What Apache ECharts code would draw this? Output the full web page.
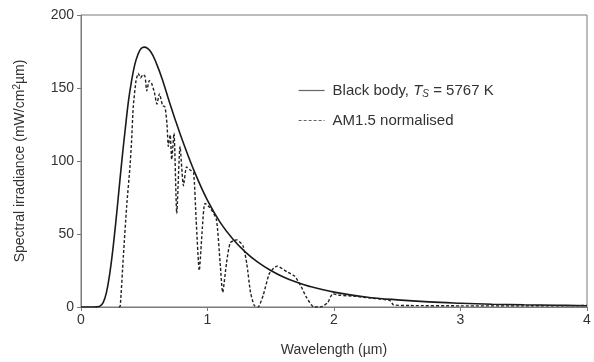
<!DOCTYPE html>
<html>
<head>
<meta charset="utf-8">
<script src="https://cdn.jsdelivr.net/npm/echarts@6/dist/echarts.min.js"></script>
<style>html,body{margin:0;padding:0;background:#fff;}#c{width:594px;height:362px;}</style>
</head>
<body>
<div id="c"></div>
<script>
// Wavelength (µm) / irradiance (mW/cm²µm) pairs
var blackBody = [
  [0,0],[0.05,0],[0.1,0],[0.125,0.1],[0.15,0.6],[0.175,3],[0.2,9.5],[0.225,21.5],[0.25,38],
  [0.275,58],[0.3,80],[0.325,102],[0.35,122],[0.375,141],[0.4,155],[0.425,166],[0.45,173],
  [0.475,177],[0.5,178],[0.55,175],[0.6,166],[0.65,154],[0.7,140],[0.75,127],[0.8,114.5],
  [0.9,92],[1.0,73],[1.1,58],[1.2,46.6],[1.3,37.6],[1.4,30.5],[1.5,25],[1.6,20.6],[1.7,17.1],
  [1.8,14.3],[2.0,10.2],[2.25,6.9],[2.5,4.9],[2.75,3.5],[3.0,2.6],[3.25,1.9],[3.5,1.5],
  [3.75,1.2],[4.0,0.9]
];
var am15 = [
  [0.30,0],[0.31,0.5],[0.335,35],[0.361,69],[0.387,96],[0.40,114],[0.413,137],[0.435,155],
  [0.453,160],[0.47,157],[0.49,159],[0.506,158],[0.52,148],[0.54,155],[0.559,153],[0.58,147],
  [0.60,139],[0.62,146],[0.645,138],[0.664,137],[0.68,125],[0.69,110],[0.705,118],[0.717,101],
  [0.735,119],[0.757,64],[0.783,110],[0.81,83],[0.835,96],[0.86,94],[0.89,92],[0.91,60],
  [0.935,25],[0.96,55],[0.98,71],[1.02,68],[1.07,60],[1.10,30],[1.12,10],[1.15,30],[1.18,44],
  [1.23,46],[1.28,42],[1.31,30],[1.34,10],[1.37,1],[1.40,0],[1.44,8],[1.49,23],[1.55,28],
  [1.63,24],[1.69,21],[1.74,14],[1.78,7],[1.84,0],[1.89,0],[1.95,3],[1.99,9],[2.05,8],
  [2.15,7.5],[2.3,6],[2.44,4.5],[2.47,1.5],[2.6,1],[3.0,0.8],[3.5,0.8],[4.0,1.0]
];
var xTicks = [0,1,2,3,4];
var yTicks = [0,50,100,150,200];
var seriesNames = ['Black body', 'AM1.5 normalised'];

var chart = echarts.init(document.getElementById('c'), null, {renderer:'canvas'});
var font = 'Liberation Sans, Arial, Helvetica, sans-serif';
var axisGray = '#7a7a7a';
var txt = '#333';
chart.setOption({
  animation:false,
  backgroundColor:'#fff',
  grid:{left:81, right:7, top:15, bottom:54, show:true, borderColor:axisGray, borderWidth:1},
  xAxis:{
    type:'value', min:xTicks[0], max:xTicks[xTicks.length-1], interval:1,
    name:'Wavelength (µm)', nameLocation:'middle', nameGap:36,
    nameTextStyle:{fontFamily:font, fontSize:14, color:txt},
    axisLine:{show:true, onZero:false, lineStyle:{color:axisGray}},
    axisTick:{show:true, length:4, inside:false, lineStyle:{color:axisGray}},
    axisLabel:{fontFamily:font, fontSize:14, color:txt, margin:6},
    splitLine:{show:false}
  },
  yAxis:{
    type:'value', min:yTicks[0], max:yTicks[yTicks.length-1], interval:50,
    name:'{a|Spectral irradiance (mW/cm}{s|2}{a|µm)}', nameLocation:'middle', nameGap:53,
    nameTextStyle:{fontFamily:font, fontSize:14, color:txt,
      rich:{a:{fontFamily:font, fontSize:14, color:txt}, s:{fontFamily:font, fontSize:10, color:txt, verticalAlign:'top', padding:[0,0,6,0]}}},
    axisLine:{show:true, lineStyle:{color:axisGray}},
    axisTick:{show:true, length:4, inside:false, lineStyle:{color:axisGray}},
    axisLabel:{fontFamily:font, fontSize:14, color:txt, margin:7},
    splitLine:{show:false}
  },
  legend:{
    orient:'vertical', left:298, top:83, padding:0, itemWidth:26, itemHeight:14, itemGap:14,
    data:seriesNames,
    itemStyle:{opacity:0},
    lineStyle:{color:'#666', width:1.2},
    formatter:function(n){
      if(n===seriesNames[0]) return '{n|Black body, }{i|T}{s|S}{n| = 5767 K}';
      return '{n|'+n+'}';
    },
    textStyle:{fontFamily:font, fontSize:15, color:txt, padding:[0,0,0,3],
      rich:{
        n:{fontFamily:font, fontSize:15, color:txt, lineHeight:17},
        i:{fontFamily:font, fontSize:15, fontStyle:'italic', color:txt, lineHeight:17},
        s:{fontFamily:font, fontSize:10, fontStyle:'italic', color:txt, lineHeight:17, verticalAlign:'bottom', padding:[5,0,0,0]}
      }}
  },
  series:[
    {name:seriesNames[0], type:'line', data:blackBody, showSymbol:false, symbol:'none', smooth:0.4,
     lineStyle:{color:'#1a1a1a', width:1.6, type:'solid'}, itemStyle:{color:'#555'}},
    {name:seriesNames[1], type:'line', data:am15, showSymbol:false, symbol:'none', smooth:0.2,
     lineStyle:{color:'#222', width:1.4, type:[3,2]}, itemStyle:{color:'#555'}}
  ]
});
</script>
</body>
</html>
